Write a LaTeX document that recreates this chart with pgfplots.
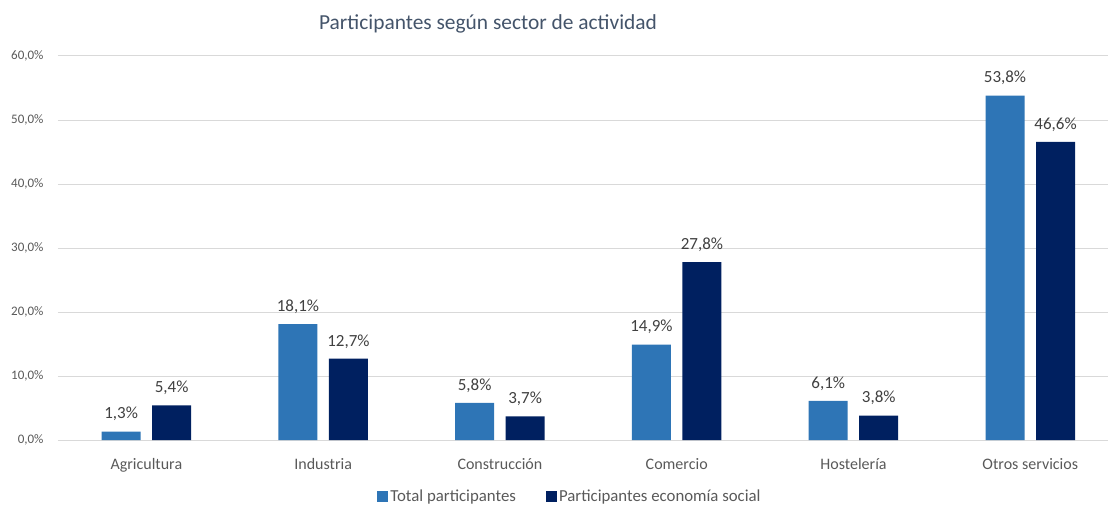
\documentclass[border=0pt]{standalone}
\usepackage{pgfplots}
\pgfplotsset{compat=1.18}
\usepackage{fontspec}
\setmainfont{Carlito}
\definecolor{cLight}{HTML}{2E75B6}
\definecolor{cDark}{HTML}{002060}
\definecolor{cGrid}{HTML}{D9D9D9}
\definecolor{cTick}{HTML}{595959}
\definecolor{cLab}{HTML}{404040}
\definecolor{cTitle}{HTML}{44546A}
\begin{document}
\begin{tikzpicture}
\begin{axis}[
  scale only axis,
  width=1050pt, height=384pt,
  xmin=-0.5, xmax=5.44,
  ymin=0, ymax=60,
  ybar=11.5pt, bar width=39pt,
  axis line style={draw=none},
  major tick length=0pt,
  ymajorgrids, grid style={cGrid, line width=1pt},
  ytick={0,10,...,60},
  xtick={0,1,2,3,4,5},
  xticklabels={Agricultura,Industria,Construcción,Comercio,Hostelería,Otros servicios},
  /pgf/number format/assume math mode=true,
  yticklabel={\pgfmathprintnumber[fixed,fixed zerofill,precision=1,use comma]{\tick}\%},
  yticklabel style={font=\fontsize{13}{15}\selectfont, text=cTick, xshift=-11pt},
  xticklabel style={font=\fontsize{16}{19}\selectfont, text=cTick, yshift=-15pt},
  nodes near coords={\pgfmathprintnumber[fixed,fixed zerofill,precision=1,use comma]{\pgfplotspointmeta}\%},
  every node near coord/.append style={font=\fontsize{17}{20}\selectfont, text=cLab, yshift=7pt},
  legend style={at={(0.4876,-0.148)}, anchor=center, draw=none, fill=none,
    font=\fontsize{16.8}{19}\selectfont, text=cTick, legend columns=2,
    /tikz/every even column/.append style={column sep=28pt}},
  legend image code/.code={\fill[#1] (0pt,-5.5pt) rectangle (11pt,5.5pt);},
  clip=false,
]
\addplot[fill=cLight, draw=none] coordinates {(0,1.3) (1,18.1) (2,5.8) (3,14.9) (4,6.1) (5,53.8)};
\addplot[fill=cDark, draw=none] coordinates {(0,5.4) (1,12.7) (2,3.7) (3,27.8) (4,3.8) (5,46.6)};
\legend{Total participantes, Participantes economía social}
\node[font=\fontsize{21.4}{25}\selectfont, text=cTitle] at (rel axis cs:0.4095,1.083) {Participantes según sector de actividad};
\end{axis}
\pgfresetboundingbox
\useasboundingbox (-58pt,-64pt) rectangle (1050pt,440pt);
\end{tikzpicture}
\end{document}
